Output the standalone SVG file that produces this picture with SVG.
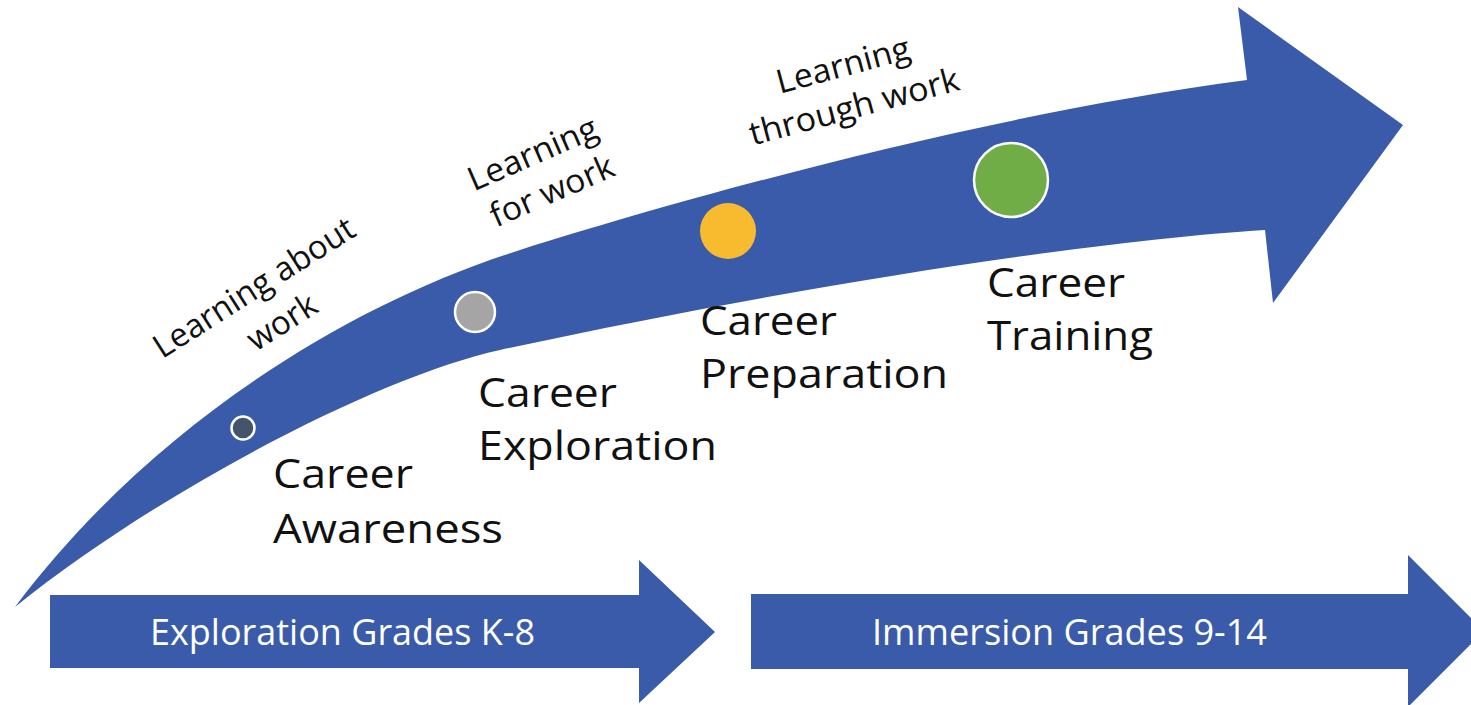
<svg xmlns="http://www.w3.org/2000/svg" width="1471" height="705" viewBox="0 0 1471 705">
<style>
  .blue { fill: #3a5ba9; }
  .lbl { font-family: "Open Sans", "Liberation Sans", sans-serif; font-size: 40px; fill: #111; }
  .rot { font-family: "Open Sans", "Liberation Sans", sans-serif; font-size: 33px; fill: #111; text-anchor: middle; }
  .band { font-family: "Open Sans", "Liberation Sans", sans-serif; font-size: 36px; fill: #ffffff; }
  .dot { stroke: #ffffff; stroke-width: 2.5; }
</style>
<rect width="1471" height="705" fill="#ffffff"/>

<g id="connectors">
  <path id="main-arrow" class="blue" d="M 15 607 C 140 440, 330 310, 520 250 C 700 193, 1000 112, 1247 80 L 1238 7 L 1403 125 L 1273 303 L 1265 230 C 1100 240, 800 285, 500 350 C 380 376, 160 490, 15 607 Z"/>
</g>

<g id="band-exploration">
  <path class="blue" d="M 50 595 H 639 V 560 L 715 632 L 639 703 V 668 H 50 Z"/>
  <text class="band" x="150" y="645" textLength="385" lengthAdjust="spacingAndGlyphs">Exploration Grades K-8</text>
</g>

<g id="band-immersion">
  <path class="blue" d="M 751 594 H 1408 V 555 L 1484 631 L 1408 707 V 669 H 751 Z"/>
  <text class="band" x="872" y="645" textLength="395" lengthAdjust="spacingAndGlyphs">Immersion Grades 9-14</text>
</g>

<g id="stage-awareness">
  <circle class="dot" cx="243" cy="428" r="11.5" fill="#44546a"/>
  <text class="lbl" x="273" y="488" textLength="140" lengthAdjust="spacingAndGlyphs">Career</text>
  <text class="lbl" x="273" y="543" textLength="230" lengthAdjust="spacingAndGlyphs">Awareness</text>
  <g transform="translate(260 297) rotate(-32.5)">
    <text class="rot" x="0" y="0" textLength="232" lengthAdjust="spacingAndGlyphs">Learning about</text>
    <text class="rot" x="5" y="44">work</text>
  </g>
</g>

<g id="stage-exploration">
  <circle class="dot" cx="475" cy="312" r="20" fill="#a5a5a5"/>
  <text class="lbl" x="478" y="407" textLength="139" lengthAdjust="spacingAndGlyphs">Career</text>
  <text class="lbl" x="478" y="460" textLength="239" lengthAdjust="spacingAndGlyphs">Exploration</text>
  <g transform="translate(537 164) rotate(-23.5)">
    <text class="rot" x="0" y="0" textLength="138" lengthAdjust="spacingAndGlyphs">Learning</text>
    <text class="rot" x="3" y="42" textLength="132" lengthAdjust="spacingAndGlyphs">for work</text>
  </g>
</g>

<g id="stage-preparation">
  <circle cx="728" cy="231" r="28" fill="#f8bb2f"/>
  <text class="lbl" x="700" y="335" textLength="137" lengthAdjust="spacingAndGlyphs">Career</text>
  <text class="lbl" x="700" y="388" textLength="248" lengthAdjust="spacingAndGlyphs">Preparation</text>
  <g transform="translate(846 76) rotate(-15)">
    <text class="rot" x="0" y="0" textLength="137" lengthAdjust="spacingAndGlyphs">Learning</text>
    <text class="rot" x="0" y="43" textLength="216" lengthAdjust="spacingAndGlyphs">through work</text>
  </g>
</g>

<g id="stage-training">
  <circle class="dot" cx="1011" cy="180" r="37" fill="#70ad47"/>
  <text class="lbl" x="987" y="297" textLength="138" lengthAdjust="spacingAndGlyphs">Career</text>
  <text class="lbl" x="987" y="350" textLength="166" lengthAdjust="spacingAndGlyphs">Training</text>
</g>
</svg>
